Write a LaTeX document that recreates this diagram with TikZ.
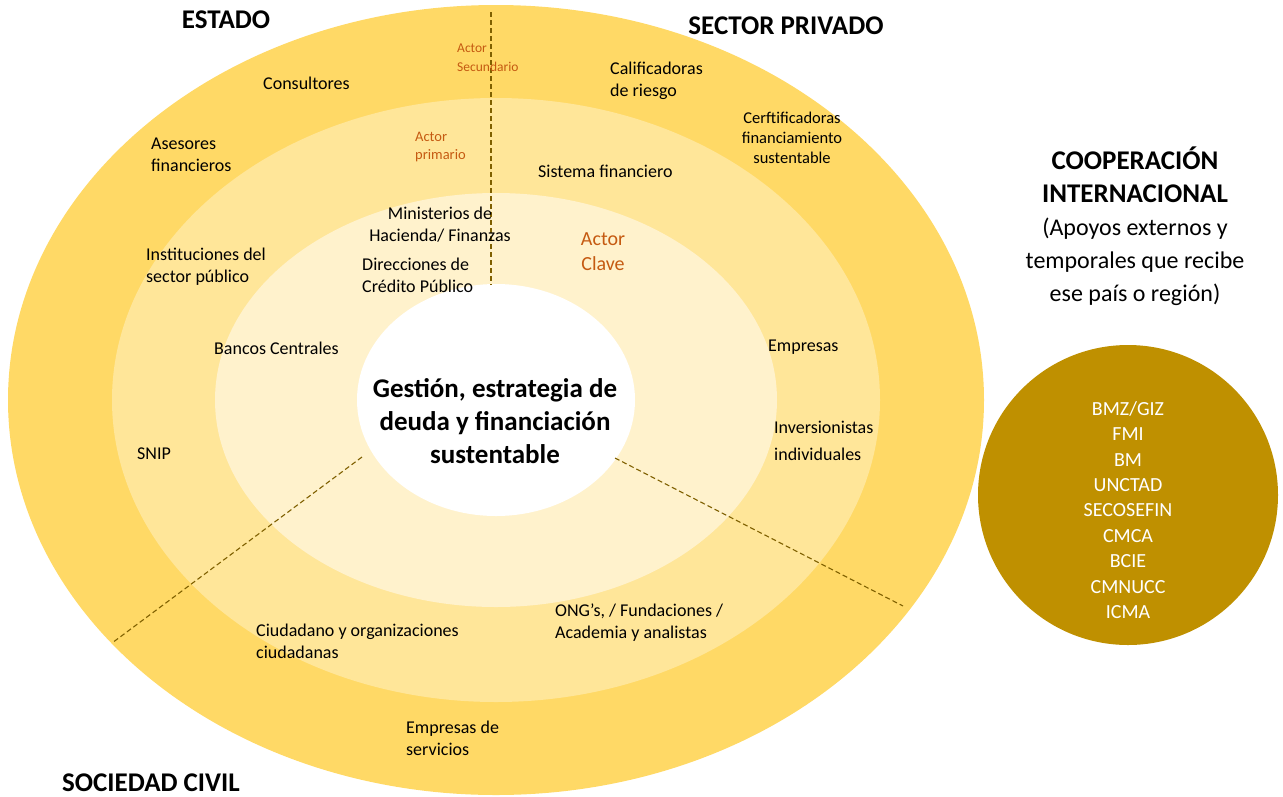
\documentclass[tikz,border=0pt]{standalone}
\usepackage{fontspec}
\setmainfont{Carlito}
\usetikzlibrary{positioning}
\definecolor{anillouno}{HTML}{FFD966}
\definecolor{anillodos}{HTML}{FFE699}
\definecolor{anillotres}{HTML}{FFF2CC}
\definecolor{oro}{HTML}{BF9000}
\definecolor{naranja}{HTML}{C55A11}
\definecolor{lineaguia}{HTML}{7F6000}
\begin{document}
\begin{tikzpicture}[x=1pt, y=-1pt,
    actorbox/.style={font=\fontsize{18}{22}\selectfont, align=left, anchor=west, inner sep=0pt},
    sectorbox/.style={font=\bfseries\fontsize{27}{32}\selectfont, inner sep=0pt},
    nivelbox/.style={text=naranja, align=left, anchor=west, inner sep=0pt},
    guia/.style={draw=lineaguia, line width=1.1pt, dash pattern=on 5pt off 3pt}]
      \useasboundingbox (0, 0) rectangle (1283, 796);
      \coordinate (centro) at (496, 400);
      \fill[anillouno] (centro) ellipse [x radius=488pt, y radius=395pt];
      \fill[anillodos] (centro) ellipse [x radius=384pt, y radius=302pt];
      \fill[anillotres] (centro) ellipse [x radius=281pt, y radius=207pt];
      \fill[white] (centro) ellipse [x radius=139pt, y radius=116pt];
      \coordinate (corte1a) at (491, 12);
      \coordinate (corte1b) at (491, 285);
      \coordinate (corte2a) at (362, 457);
      \coordinate (corte2b) at (112, 643);
      \coordinate (corte3a) at (615, 458);
      \coordinate (corte3b) at (903, 606);
      \draw[guia] (corte1a) -- (corte1b);
      \draw[guia] (corte2a) -- (corte2b);
      \draw[guia] (corte3a) -- (corte3b);
      \node[sectorbox] (estado) at (226, 20) {ESTADO};
      \node[sectorbox] (privado) at (786, 26) {SECTOR PRIVADO};
      \node[sectorbox] (civil) at (151, 783) {SOCIEDAD CIVIL};
      \node[font=\bfseries\fontsize{27}{33}\selectfont, align=center] (gestion) at (495, 421) {Gestión, estrategia de\\deuda y financiación\\sustentable};
      \node[nivelbox, font=\fontsize{13.5}{19}\selectfont] (secundario) at (457, 58) {Actor\\Secundario};
      \node[nivelbox, font=\fontsize{14.5}{18}\selectfont] (primario) at (415, 147) {Actor\\primario};
      \node[text=naranja, font=\fontsize{20}{25}\selectfont, align=center] (clave) at (603, 252) {Actor\\Clave};
      \node[actorbox] (consultores) at (263, 83) {Consultores};
      \node[actorbox] (calificadoras) at (610, 81) {Calificadoras\\de riesgo};
      \node[font=\fontsize{16.5}{20}\selectfont, align=center] (certificadoras) at (792, 138) {Cerftificadoras\\financiamiento\\sustentable};
      \node[actorbox] (asesores) at (151, 155) {Asesores\\financieros};
      \node[actorbox] (sistema) at (538, 171) {Sistema financiero};
      \node[font=\fontsize{18}{22}\selectfont, align=center] (ministerios) at (440, 225) {Ministerios de\\Hacienda/ Finanzas};
      \node[actorbox] (instituciones) at (146, 267) {Instituciones del\\sector público};
      \node[actorbox] (direcciones) at (362, 275) {Direcciones de\\Crédito Público};
      \node[actorbox] (bancos) at (214, 348) {Bancos Centrales};
      \node[actorbox] (empresas) at (768, 347) {Empresas};
      \node[actorbox, font=\fontsize{18}{27}\selectfont] (inversionistas) at (774, 441) {Inversionistas\\individuales};
      \node[actorbox] (snip) at (137, 454) {SNIP};
      \node[actorbox] (ong) at (555, 623) {ONG’s, / Fundaciones /\\Academia y analistas};
      \node[actorbox] (ciudadano) at (256, 641) {Ciudadano y organizaciones\\ciudadanas};
      \node[actorbox] (servicios) at (406, 738) {Empresas de\\servicios};
      \node[circle, fill=oro, minimum size=300pt, inner sep=0pt] (externo) at (1128, 495) {};
      \node[text=white, font=\fontsize{20}{25.4}\selectfont, align=center] (donantes) at (1128, 510) {BMZ/GIZ\\FMI\\BM\\UNCTAD\\SECOSEFIN\\CMCA\\BCIE\\CMNUCC\\ICMA};
      \node[align=center, font=\fontsize{24}{33}\selectfont] (cooperacion) at (1135, 226) {{\fontsize{27}{33}\selectfont\bfseries COOPERACIÓN}\\{\fontsize{27}{33}\selectfont\bfseries INTERNACIONAL}\\(Apoyos externos y\\temporales que recibe\\ese país o región)};
    \end{tikzpicture}
\end{document}
